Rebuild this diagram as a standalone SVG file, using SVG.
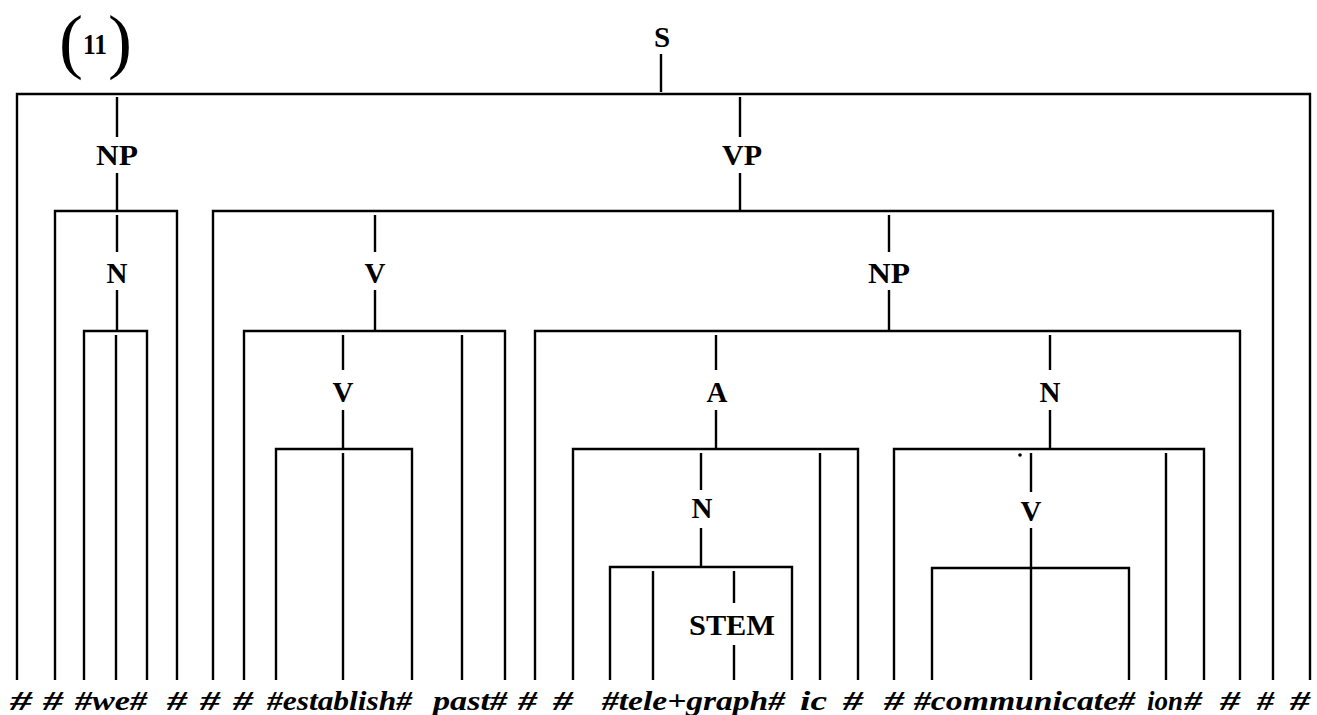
<svg xmlns="http://www.w3.org/2000/svg" width="1317" height="715" viewBox="0 0 1317 715">
<style>
.ln{fill:none;stroke:#000;stroke-width:2.4;stroke-linecap:butt;stroke-linejoin:miter}
.lbl{font-family:"Liberation Serif","Times New Roman",serif;font-weight:bold;font-size:29px;text-anchor:middle;fill:#000}
.term{font-family:"Liberation Serif","Times New Roman",serif;font-weight:bold;font-style:italic;font-size:28px;fill:#000}
.paren{font-family:"Liberation Serif","Times New Roman",serif;font-size:72px;text-anchor:middle;fill:#000}
.num{font-family:"Liberation Serif","Times New Roman",serif;font-size:29px;font-weight:bold;text-anchor:middle;fill:#000}
</style>
<rect width="1317" height="715" fill="#fff"/>
<g id="connectors">
<path class="ln" d="M661,54V92M17,680V94H1310V680"/>
<path class="ln" d="M117,97V137M117,173V211M55,680V211H177V680"/>
<path class="ln" d="M740,97V137M740,173V211M213,680V211H1273V680"/>
<path class="ln" d="M117,215V252M117,290V331M84,680V331H147V680M116,335V680"/>
<path class="ln" d="M375,215V252M375,290V331M244,680V331H505V680M462,335V680"/>
<path class="ln" d="M889,215V252M889,290V331M535,680V331H1240V680"/>
<path class="ln" d="M343,335V370M343,410V449M276,680V449H412V680M343,453V680"/>
<path class="ln" d="M716,335V370M716,410V449M573,680V449H858V680M820,453V680"/>
<path class="ln" d="M1050,335V370M1050,410V449M894,680V449H1204V680M1166,453V680"/>
<path class="ln" d="M701,453V490M701,528V567M610,680V567H792V680M653,571V680M734,571V603M734,645V680"/>
<path class="ln" d="M1031,453V492M1031,528V680M932,680V568H1129V680"/>
<circle cx="1020" cy="455" r="1.8" fill="#000"/>
</g>
<g id="label-11">
<text class="paren" x="71" y="65">(</text>
<text class="num" x="95" y="54" textLength="24" lengthAdjust="spacingAndGlyphs">11</text>
<text class="paren" x="120" y="65">)</text>
</g>
<g id="node-S"><text class="lbl" x="662" y="47">S</text></g>
<g id="node-NP-subj"><text class="lbl" x="117" y="165" textLength="42" lengthAdjust="spacingAndGlyphs">NP</text></g>
<g id="node-VP"><text class="lbl" x="742" y="165" textLength="40" lengthAdjust="spacingAndGlyphs">VP</text></g>
<g id="node-N-we"><text class="lbl" x="117" y="283">N</text></g>
<g id="node-V"><text class="lbl" x="375" y="283">V</text></g>
<g id="node-NP-obj"><text class="lbl" x="889" y="283" textLength="42" lengthAdjust="spacingAndGlyphs">NP</text></g>
<g id="node-V-inner"><text class="lbl" x="343" y="402">V</text></g>
<g id="node-A"><text class="lbl" x="717" y="402">A</text></g>
<g id="node-N-right"><text class="lbl" x="1050" y="402">N</text></g>
<g id="node-N-tele"><text class="lbl" x="702" y="518">N</text></g>
<g id="node-V-comm"><text class="lbl" x="1031" y="521">V</text></g>
<g id="node-STEM"><text class="lbl" x="732" y="635" textLength="86" lengthAdjust="spacingAndGlyphs">STEM</text></g>
<g id="terminals">
<text class="term" x="10" y="710" textLength="22" lengthAdjust="spacingAndGlyphs">#</text>
<text class="term" x="43" y="710" textLength="20" lengthAdjust="spacingAndGlyphs">#</text>
<text class="term" x="75" y="710" textLength="72" lengthAdjust="spacingAndGlyphs">#we#</text>
<text class="term" x="167" y="710" textLength="20" lengthAdjust="spacingAndGlyphs">#</text>
<text class="term" x="200" y="710" textLength="20" lengthAdjust="spacingAndGlyphs">#</text>
<text class="term" x="233" y="710" textLength="20" lengthAdjust="spacingAndGlyphs">#</text>
<text class="term" x="267" y="710" textLength="145" lengthAdjust="spacingAndGlyphs">#establish#</text>
<text class="term" x="433" y="710" textLength="74" lengthAdjust="spacingAndGlyphs">past#</text>
<text class="term" x="518" y="710" textLength="19" lengthAdjust="spacingAndGlyphs">#</text>
<text class="term" x="553" y="710" textLength="20" lengthAdjust="spacingAndGlyphs">#</text>
<text class="term" x="602" y="710" textLength="183" lengthAdjust="spacingAndGlyphs">#tele+graph#</text>
<text class="term" x="800" y="710" textLength="27" lengthAdjust="spacingAndGlyphs">ic</text>
<text class="term" x="843" y="710" textLength="20" lengthAdjust="spacingAndGlyphs">#</text>
<text class="term" x="884" y="710" textLength="20" lengthAdjust="spacingAndGlyphs">#</text>
<text class="term" x="914" y="710" textLength="221" lengthAdjust="spacingAndGlyphs">#communicate#</text>
<text class="term" x="1147" y="710" textLength="36" lengthAdjust="spacingAndGlyphs">ion</text>
<text class="term" x="1184" y="710" textLength="18" lengthAdjust="spacingAndGlyphs">#</text>
<text class="term" x="1220" y="710" textLength="20" lengthAdjust="spacingAndGlyphs">#</text>
<text class="term" x="1257" y="710" textLength="17" lengthAdjust="spacingAndGlyphs">#</text>
<text class="term" x="1290" y="710" textLength="20" lengthAdjust="spacingAndGlyphs">#</text>
</g>
</svg>
